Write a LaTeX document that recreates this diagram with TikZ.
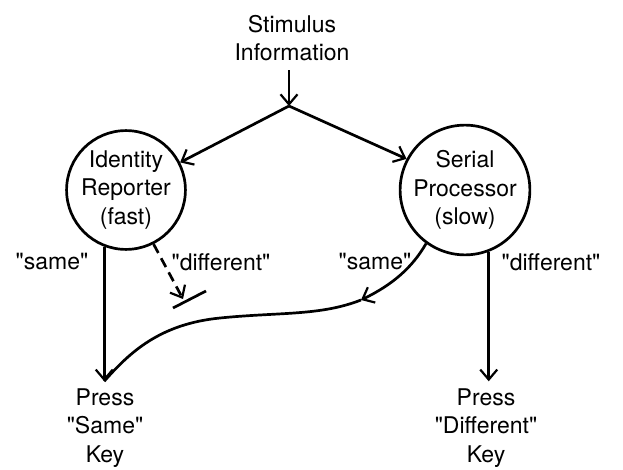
\documentclass[tikz,border=0pt]{standalone}
\usepackage{fontspec}
\setmainfont{TeX Gyre Heros}[Ligatures=TeXOff]
\usetikzlibrary{arrows.meta}
\begin{document}
\begin{tikzpicture}[x=1pt,y=-1pt, line width=2.7pt,
  font=\fontsize{23}{28.5}\selectfont,
  arr/.style={-{Straight Barb[length=10pt,width=17pt,line width=2.2pt]}},
  proc/.style={circle,draw,minimum size=118pt,inner sep=0pt,align=center},
  lbl/.style={inner sep=0pt,align=center},
  dashline/.style={dash pattern=on 10pt off 6pt}
]
\useasboundingbox (0,0) rectangle (623,470);

% nodes
\node[lbl] (stim) at (292,38) {Stimulus\\Information};
\coordinate (jn) at (289,106);
\node[proc] (ir) at (126,190) {Identity\\Reporter\\(fast)};
\node[proc] (sp) at (465,190) {Serial\\Processor\\(slow)};
\node[lbl] (sk) at (105,428) {Press\\"Same"\\Key};
\node[lbl] (dk) at (486,428) {Press\\"Different"\\Key};

% labels
\node[lbl] (l1) at (52,262) {"same"};
\node[lbl] (l2) at (221,262) {"different"};
\node[lbl] (l3) at (375,262) {"same"};
\node[lbl] (l4) at (551,262) {"different"};

% connectors
\draw[arr] ([yshift=-8pt]stim.south -| jn) -- (jn);
\draw[arr] (jn) -- (ir.27);
\draw[arr] (jn) -- (sp.152);

\draw[arr] (ir.-111) -- ([yshift=6pt]sk.north -| ir.-111);
\draw[arr] (sp.-69) -- ([yshift=6pt]dk.north -| sp.-69);

\coordinate (blk) at (183,299);
\draw[arr,dashline] (ir.-63) -- (blk);
\draw (blk) ++(-10,9) -- ++(33,-17);

\coordinate (mid) at (361,300);
\draw[arr] (sp.-126) .. controls (412,268) and (392,285) .. (mid);
\draw (mid) .. controls (320,316) and (280,312) .. (220,318)
            .. controls (160,324) and (130,352) .. ([yshift=6pt]sk.north -| ir.-111);
\end{tikzpicture}
\end{document}
